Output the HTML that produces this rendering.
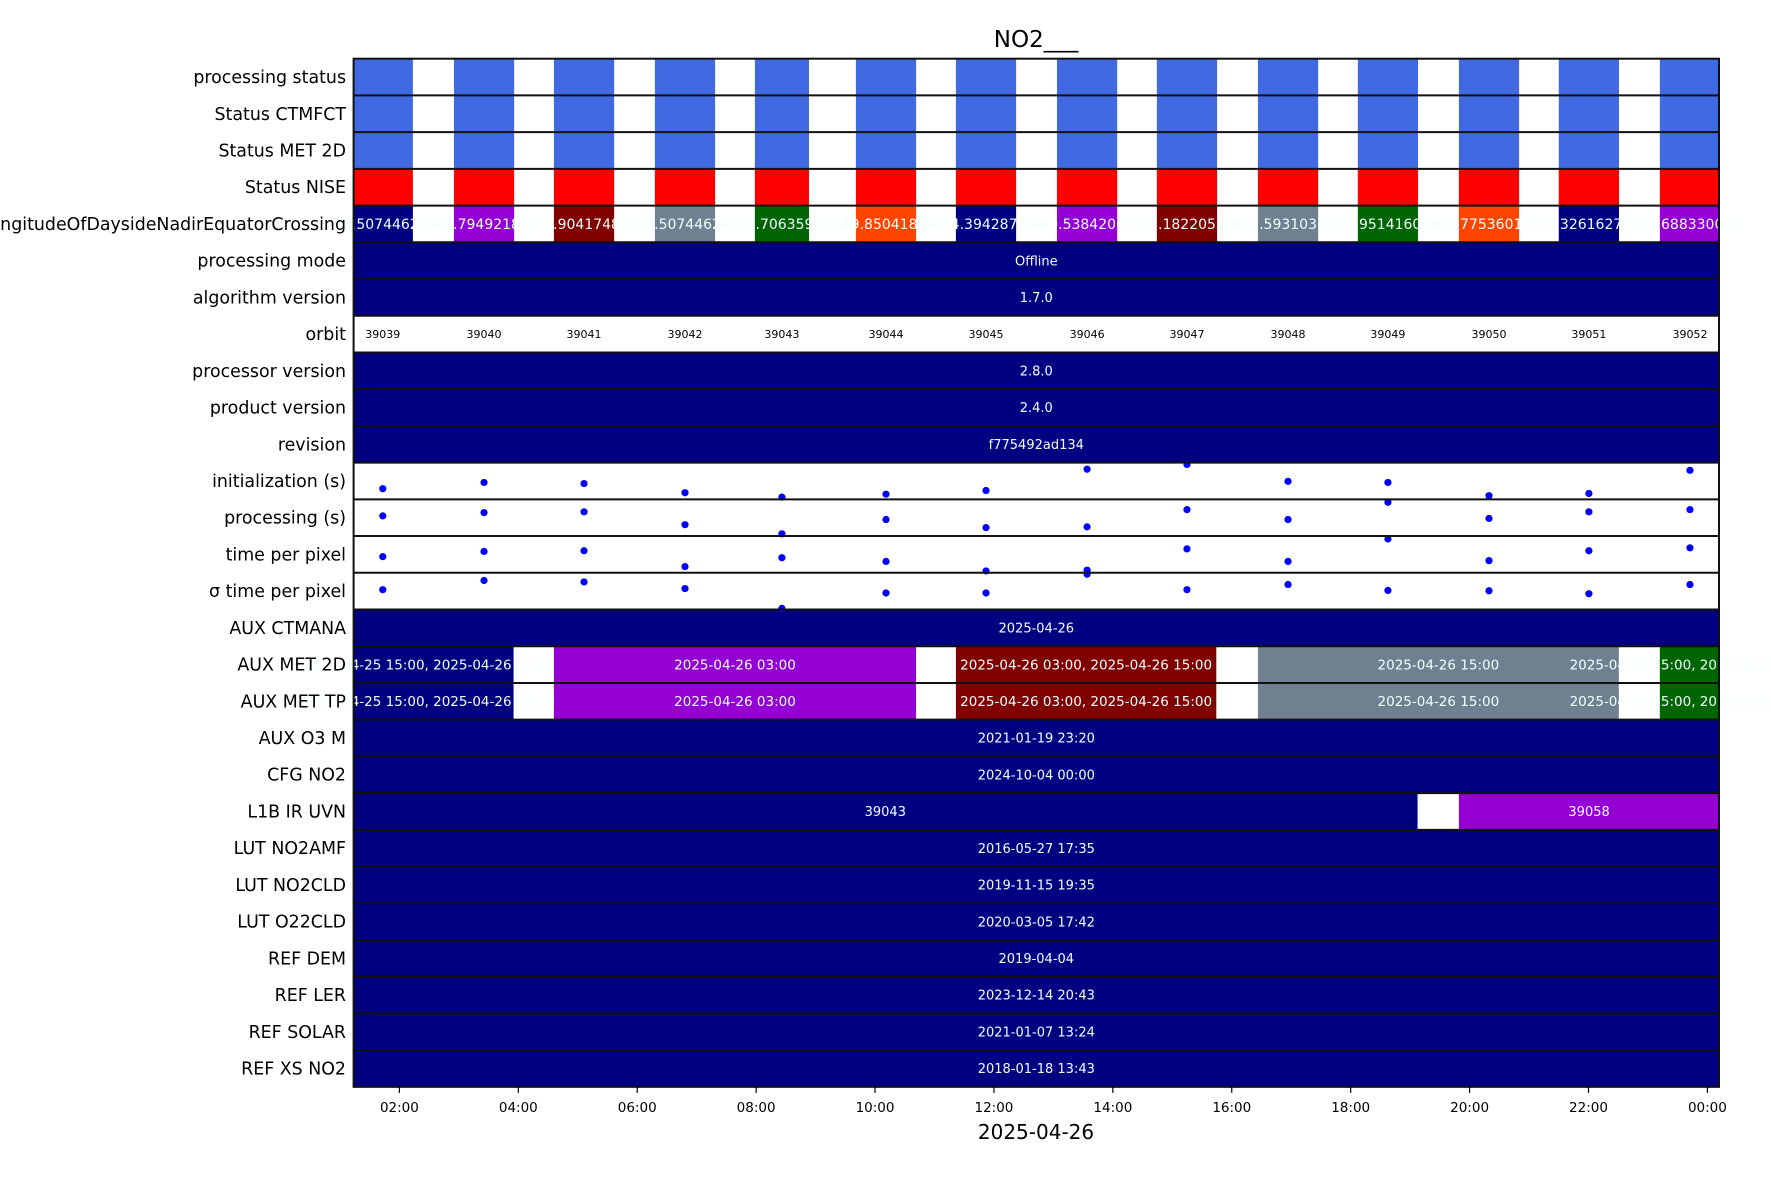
<!DOCTYPE html>
<html><head><meta charset="utf-8"><style>
html,body{margin:0;padding:0;background:#fff;}
svg{display:block;font-family:"DejaVu Sans","Liberation Sans",sans-serif;}
</style></head><body>
<svg id="chart" width="1771" height="1181" viewBox="0 0 1771 1181" xmlns="http://www.w3.org/2000/svg">
<text x="1036" y="47" font-size="23" text-anchor="middle" fill="#000">NO2___</text>
<g id="rows"></g>
<g id="labels"></g>
<g id="axis"></g>
<text x="1036" y="1139" font-size="20" text-anchor="middle" fill="#000">2025-04-26</text>
</svg>
<script>
// ---- data ----
const rowLabels = ["processing status","Status CTMFCT","Status MET 2D","Status NISE","LongitudeOfDaysideNadirEquatorCrossing","processing mode","algorithm version","orbit","processor version","product version","revision","initialization (s)","processing (s)","time per pixel","σ time per pixel","AUX CTMANA","AUX MET 2D","AUX MET TP","AUX O3   M","CFG NO2","L1B IR UVN","LUT NO2AMF","LUT NO2CLD","LUT O22CLD","REF DEM","REF LER","REF SOLAR","REF XS NO2"];
const orbits = [39039,39040,39041,39042,39043,39044,39045,39046,39047,39048,39049,39050,39051,39052];
const orbitStart = [1.214,2.917,4.599,6.297,7.979,9.678,11.36,13.06,14.74,16.44,18.12,19.82,21.50,23.20];
const orbitEnd = [2.227,3.930,5.612,7.310,8.889,10.691,12.373,14.073,15.753,17.453,19.133,20.833,22.513,24.213];
const longitudes = ["-24.507446289","-49.794921875","-74.904174805","-99.507446289","-124.706359863","-149.850418091","-174.394287109","160.538420677","135.182205200","110.593103027","85.951416016","60.775360107","35.326162720","10.688330078"];
const initValues = [29,46,43,18,6,14,24,82,95,49,46,10,16,79];
const procValues = [55,64,66,31,6,45,23,25,72,45,92,48,66,72];
const tppValues = [44,58,60,17,41,31,5,7,65,31,92,33,60,68];
const sigmaValues = [54,79,75,57,3,45,45,96,54,68,52,51,43,68];
const metSegStart = [1.07,4.599,11.36,16.44,23.20];
const metSegEnd = [3.92,10.69,15.74,22.51,24.40];
const metSegText = ["2025-04-25 15:00, 2025-04-26 03:00","2025-04-26 03:00","2025-04-26 03:00, 2025-04-26 15:00","2025-04-26 15:00","2025-04-26 15:00, 2025-04-27 03:00"];
const l1bStart = [1.22,19.82];
const l1bEnd = [19.125,24.2];
const l1bText = ["39043","39058"];
const singleRows = {5:"Offline",6:"1.7.0",8:"2.8.0",9:"2.4.0",10:"f775492ad134",15:"2025-04-26",18:"2021-01-19 23:20",19:"2024-10-04 00:00",21:"2016-05-27 17:35",22:"2019-11-15 19:35",23:"2020-03-05 17:42",24:"2019-04-04",25:"2023-12-14 20:43",26:"2021-01-07 13:24",27:"2018-01-18 13:43"};
const tickHours = [2,4,6,8,10,12,14,16,18,20,22,24];
const tickLabels = ["02:00","04:00","06:00","08:00","10:00","12:00","14:00","16:00","18:00","20:00","22:00","00:00"];
// ---- layout ----
const AX_L=353.6, AX_R=1719, AX_T=58.7, ROW_H=36.72;
const H0=1.2296, H1=24.195;
const NS="http://www.w3.org/2000/svg";
function xs(h){return AX_L+(h-H0)/(H1-H0)*(AX_R-AX_L);}
function rowTop(i){return AX_T+i*ROW_H;}
function el(tag,attrs,parent){const e=document.createElementNS(NS,tag);for(const k in attrs)e.setAttribute(k,attrs[k]);parent.appendChild(e);return e;}
const rows=document.getElementById('rows'), labels=document.getElementById('labels'), axis=document.getElementById('axis');
el('clipPath',{id:'axclip'},rows).appendChild((()=>{const r=document.createElementNS(NS,'rect');r.setAttribute('x',AX_L);r.setAttribute('y',AX_T);r.setAttribute('width',AX_R-AX_L);r.setAttribute('height',ROW_H*28);return r;})());
const rectG=el('g',{'clip-path':'url(#axclip)'},rows);
const textG=el('g',{},rows);
function bar(h0,h1,i,color,name){
  const r=el('rect',{x:xs(h0),y:rowTop(i),width:xs(h1)-xs(h0),height:ROW_H,fill:color},rectG);
  
  
}
function label(txt,x,i,size,color,name){
  const t=el('text',{x:x,y:rowTop(i)+ROW_H/2+size*0.36,'font-size':size,'text-anchor':'middle',fill:color},textG);
  t.textContent=txt;
  
  
}
const statusColors=["#4169e1","#4169e1","#4169e1","#ff0000"];
const lonColors=["#000080","#9400d3","#800000","#708090","#006400","#ff4500"];
for(let r=0;r<4;r++){
  orbits.forEach((o,k)=>bar(orbitStart[k],orbitEnd[k],r,statusColors[r],'status-block-'+o));
}
orbits.forEach((o,k)=>{
  bar(orbitStart[k],orbitEnd[k],4,lonColors[k%6],'longitude-block-'+o);
});
orbits.forEach((o,k)=>{
  const c=(xs(orbitStart[k])+xs(orbitEnd[k]))/2;
  label(longitudes[k],c,4,14,'#f0ffff','longitude-value-'+o);
});
for(const i in singleRows){
  bar(H0-1,H1+1,+i,'#000080','row-bar-'+i);
  label(singleRows[i],(AX_L+AX_R)/2,+i,13,'#f0ffff','row-value-'+i);
}
orbits.forEach((o,k)=>{
  label(String(o),(xs(orbitStart[k])+xs(orbitEnd[k]))/2,7,11,'#000','orbit-label-'+o);
});
const metColors=["#000080","#9400d3","#800000","#708090","#006400"];
[16,17].forEach(r=>{
  metSegStart.forEach((s,k)=>bar(s,metSegEnd[k],r,metColors[k],'aux-met-segment-'+k));
  metSegStart.forEach((s,k)=>label(metSegText[k],(xs(s)+xs(metSegEnd[k]))/2,r,13.5,'#f0ffff','aux-met-text-'+k));
});
const l1bColors=["#000080","#9400d3"];
l1bStart.forEach((s,k)=>bar(s,l1bEnd[k],20,l1bColors[k],'l1b-segment-'+k));
l1bStart.forEach((s,k)=>label(l1bText[k],(xs(s)+xs(l1bEnd[k]))/2,20,13,'#f0ffff','l1b-text-'+k));
// scatter rows
const dotG=el('g',{'clip-path':'url(#axclip)'},rows);
[[11,initValues,'init'],[12,procValues,'proc'],[13,tppValues,'tpp'],[14,sigmaValues,'sigma']].forEach(([r,vals,nm])=>{
  vals.forEach((v,k)=>{
    const cx=(xs(orbitStart[k])+xs(orbitEnd[k]))/2;
    const cy=rowTop(r)+ROW_H-(v/100)*ROW_H;
    const c=el('circle',{cx:cx,cy:cy,r:3.6,fill:'#0000ff'},dotG);
    
    
  });
});
// row separators + frame
for(let i=1;i<28;i++){
  const l=el('line',{x1:AX_L,x2:AX_R,y1:rowTop(i),y2:rowTop(i),stroke:'#111','stroke-width':2},axis);
  
  
}
const fr=el('rect',{x:AX_L,y:AX_T,width:AX_R-AX_L,height:ROW_H*28,fill:'none',stroke:'#111','stroke-width':2},axis);


// row labels
rowLabels.forEach((t,i)=>{
  const e=el('text',{x:346,y:rowTop(i)+ROW_H/2+6,'font-size':17.4,'text-anchor':'end',fill:'#000'},labels);
  e.textContent=t;
  
  
});
// x ticks
const yb=AX_T+ROW_H*28;
tickHours.forEach((h,k)=>{
  const x=xs(h);
  const tk=el('line',{x1:x,x2:x,y1:yb,y2:yb+6,stroke:'#000','stroke-width':1.2},axis);
  
  
  const t=el('text',{x:x,y:yb+25,'font-size':13.5,'text-anchor':'middle',fill:'#000'},axis);
  t.textContent=tickLabels[k];
  
  
});
</script>
</body></html>
